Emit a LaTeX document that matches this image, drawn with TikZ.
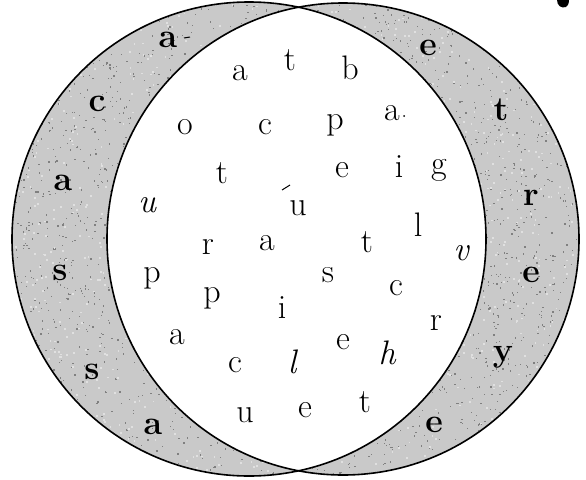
\documentclass[tikz,border=0pt]{standalone}
\usepackage{fontspec}
\begin{document}
\begin{tikzpicture}[x=1pt,y=-1pt,
  lens/.style={font=\fontsize{34}{34}\selectfont, inner sep=0pt},
  lensit/.style={font=\fontsize{34}{34}\selectfont\itshape, inner sep=0pt},
  rim/.style={font=\fontsize{34}{34}\selectfont\bfseries, inner sep=0pt},
  outline/.style={draw=black, line width=1.6pt},
  crescent/.style={fill=black!21}]
\useasboundingbox (0,0) rectangle (586,479);
\coordinate (LC) at (249,239);
\coordinate (RC) at (343,239);
% grey crescents
\fill[crescent] (LC) circle (237);
\fill[crescent] (RC) circle (236);
\pgfmathsetseed{11}
\begin{scope}
  \clip (LC) circle (237);
  \foreach \i in {1,...,2400}{
    \pgfmathsetmacro\px{12+474*rnd}
    \pgfmathsetmacro\py{2+474*rnd}
    \fill[black!50] (\px,\py) rectangle ++(1.3,1.3);
  }
  \foreach \i in {1,...,900}{
    \pgfmathsetmacro\px{12+474*rnd}
    \pgfmathsetmacro\py{2+474*rnd}
    \fill[white!88!black] (\px,\py) rectangle ++(1.8,1.8);
  }
\end{scope}
\begin{scope}
  \clip (RC) circle (236);
  \foreach \i in {1,...,2400}{
    \pgfmathsetmacro\px{107+472*rnd}
    \pgfmathsetmacro\py{2+474*rnd}
    \fill[black!50] (\px,\py) rectangle ++(1.3,1.3);
  }
  \foreach \i in {1,...,900}{
    \pgfmathsetmacro\px{107+472*rnd}
    \pgfmathsetmacro\py{2+474*rnd}
    \fill[white!88!black] (\px,\py) rectangle ++(1.8,1.8);
  }
\end{scope}
% white lens
\begin{scope}
  \clip (LC) circle (237);
  \fill[white] (RC) circle (236);
\end{scope}
% outlines
\draw[outline] (LC) circle (237);
\draw[outline] (RC) circle (236);
% cut-off mark at top right
\fill[black] (557,0) .. controls (557,5) and (561,9) .. (566,7) .. controls (569,5) and (569,1) .. (569,0) -- cycle;
% left rim letters
\node[rim] (l1) at (168,40) {a};
\node[rim] (l2) at (97,104) {c};
\node[rim] (l3) at (63,183) {a};
\node[rim] (l4) at (60,273) {s};
\node[rim] (l5) at (92,372) {s};
\node[rim] (l6) at (153,427) {a};
% right rim letters
\node[rim] (r1) at (428,48) {e};
\node[rim] (r2) at (501,110) {t};
\node[rim] (r3) at (531,198) {r};
\node[rim] (r4) at (531,275) {e};
\node[rim] (r5) at (503,357) {y};
\node[rim] (r6) at (434,425) {e};
% lens letters
\node[lens] (m1) at (240,73) {a};
\node[lens] (m2) at (290,60) {t};
\node[lens] (m3) at (350,68) {b};
\node[lens] (m4) at (185,127) {o};
\node[lens] (m5) at (265,127) {c};
\node[lens] (m6) at (335,125) {p};
\node[lens] (m7) at (392,113) {a};
\node[lens] (m8) at (222,173) {t};
\node[lens] (m9) at (342,170) {e};
\node[lens] (m10) at (399,167) {i};
\node[lens] (m11) at (439,170) {g};
\node[lensit] (m12) at (147,205) {u};
\node[lens] (m13) at (298,208) {u};
\node[lens] (m14) at (208,247) {r};
\node[lens] (m15) at (267,243) {a};
\node[lens] (m16) at (367,242) {t};
\node[lens] (m17) at (418,225) {l};
\node[lensit] (m18) at (461,253) {v};
\node[lens] (m19) at (152,278) {p};
\node[lens] (m20) at (328,275) {s};
\node[lens] (m21) at (396,288) {c};
\node[lens] (m22) at (212,298) {p};
\node[lens] (m23) at (282,308) {i};
\node[lens] (m24) at (436,323) {r};
\node[lens] (m25) at (177,337) {a};
\node[lens] (m26) at (343,342) {e};
\node[lensit] (m27) at (387,353) {h};
\node[lens] (m28) at (235,365) {c};
\node[lensit] (m29) at (292,362) {l};
\node[lens] (m30) at (245,415) {u};
\node[lens] (m31) at (305,410) {e};
\node[lens] (m32) at (365,402) {t};
% small marks
\draw[line width=1pt] (282,190) -- (290,185);
\draw[line width=1pt] (184,38) -- (190,37);
\fill (404,116) circle (1);
\end{tikzpicture}
\end{document}
